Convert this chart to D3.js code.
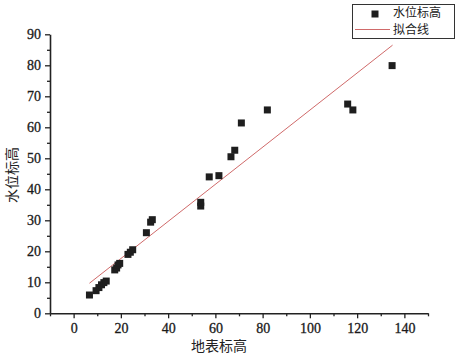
<!DOCTYPE html>
<html><head><meta charset="utf-8">
<script src="https://cdn.jsdelivr.net/npm/d3@7"></script>
<style>body{margin:0;background:#fff}</style>
</head><body>
<svg id="c" width="457" height="355"></svg>
<script>
const groundElev = [6.7, 9.5, 10.7, 11.8, 12.8, 13.8, 17.4, 18.2, 18.8, 19.5, 23, 24, 25, 30.8, 32.6, 33.3, 53.8, 53.8, 57.4, 61.5, 66.6, 68.2, 71, 82, 116, 118.2, 134.8];
const waterElev = [5.9, 7.3, 8.3, 9.2, 9.9, 10.4, 14, 14.6, 15.6, 16.1, 19, 19.7, 20.5, 26, 29.4, 30.2, 34.6, 35.8, 44, 44.4, 50.5, 52.6, 61.4, 65.6, 67.5, 65.6, 79.9];
const fitX = [6.7, 135];
const fitY = [9.7, 86.5];
const xTicks = [0, 20, 40, 60, 80, 100, 120, 140];
const yTicks = [0, 10, 20, 30, 40, 50, 60, 70, 80, 90];
const legendLabels = ["水位标高", "拟合线"];
const xTitle = "地表标高", yTitle = "水位标高";

const svg = d3.select("#c");
const x = d3.scaleLinear().domain([-10, 150]).range([50, 428]);
const y = d3.scaleLinear().domain([0, 90]).range([313.3, 34.3]);
const numFont = "'Liberation Serif','DejaVu Serif',serif";
const cjkFont = "'Noto Sans CJK SC',sans-serif";

// minor ticks
const xAx = svg.append("g").attr("transform", `translate(0,${y(0)})`);
xAx.call(d3.axisBottom(x).tickValues(d3.range(-10, 151, 10).filter(v => v % 20 !== 0)).tickSize(3).tickFormat(""));
xAx.call(g => g.select(".domain").remove());
const xAx2 = svg.append("g").attr("transform", `translate(0,${y(0)})`)
  .call(d3.axisBottom(x).tickValues(xTicks).tickSize(5).tickSizeOuter(0).tickPadding(5));
const yAx = svg.append("g").attr("transform", `translate(${x(-10)},0)`);
yAx.call(d3.axisLeft(y).tickValues(d3.range(5, 90, 10)).tickSize(3).tickFormat(""));
yAx.call(g => g.select(".domain").remove());
const yAx2 = svg.append("g").attr("transform", `translate(${x(-10)},0)`)
  .call(d3.axisLeft(y).tickValues(yTicks).tickSize(5).tickSizeOuter(0).tickPadding(4));
svg.selectAll(".tick line").attr("stroke", "#222").attr("stroke-width", 1.3);
svg.selectAll(".domain").attr("stroke", "#222").attr("stroke-width", 1.6);
svg.selectAll(".tick text").attr("font-family", numFont).attr("font-size", 14).attr("fill", "#1a1a1a")
  .attr("stroke", "#1a1a1a").attr("stroke-width", 0.3);

// fit line
svg.append("line")
  .attr("x1", x(fitX[0])).attr("y1", y(fitY[0]))
  .attr("x2", x(fitX[1])).attr("y2", y(fitY[1]))
  .attr("stroke", "#d06a6a").attr("stroke-width", 1);

// points
svg.append("g").selectAll("rect").data(groundElev.map((g, i) => [g, waterElev[i]]))
  .join("rect")
  .attr("x", d => x(d[0]) - 3.5).attr("y", d => y(d[1]) - 3.5)
  .attr("width", 7).attr("height", 7).attr("fill", "#1e1e1e");

// legend
const lg = svg.append("g");
lg.append("rect").attr("x", 352.5).attr("y", 4.5).attr("width", 102).attr("height", 34)
  .attr("fill", "#fff").attr("stroke", "#333").attr("stroke-width", 1);
lg.append("rect").attr("x", 371.5).attr("y", 10.5).attr("width", 7).attr("height", 7).attr("fill", "#1e1e1e");
lg.append("line").attr("x1", 355).attr("x2", 390).attr("y1", 29.5).attr("y2", 29.5)
  .attr("stroke", "#d06a6a").attr("stroke-width", 1);
lg.selectAll("text.l").data(legendLabels).join("text")
  .attr("x", 393).attr("y", (d, i) => 13 + i * 17).attr("dy", "0.35em")
  .attr("font-family", cjkFont).attr("font-size", 12).attr("fill", "#222").text(d => d);

// titles
svg.append("text").attr("x", 219).attr("y", 351).attr("text-anchor", "middle")
  .attr("font-family", cjkFont).attr("font-size", 14).attr("fill", "#222").text(xTitle);
svg.append("text").attr("transform", "translate(17,175) rotate(-90)").attr("text-anchor", "middle")
  .attr("font-family", cjkFont).attr("font-size", 14).attr("fill", "#222").text(yTitle);
</script>
</body></html>
